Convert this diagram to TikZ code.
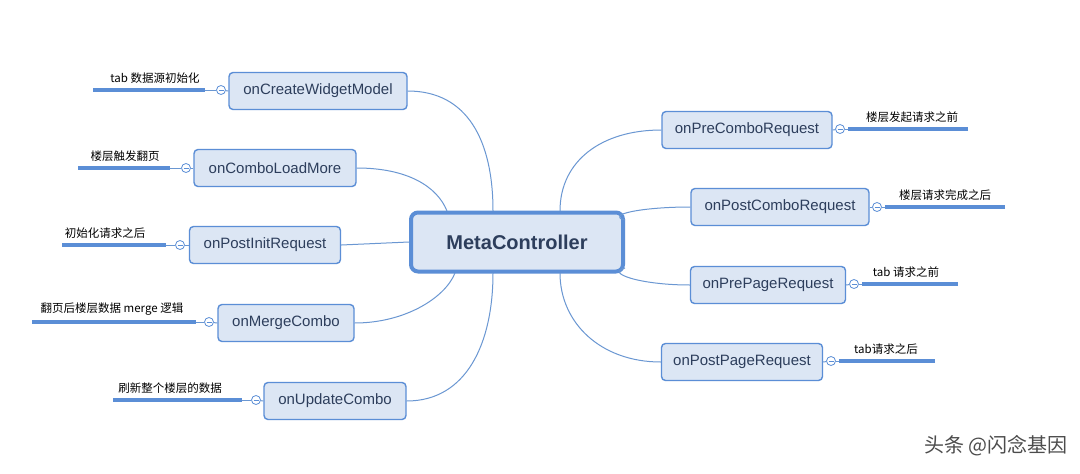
\documentclass[tikz,border=0pt]{standalone}
\usepackage{fontspec}
\setmainfont{Liberation Sans}
\newfontfamily\cjk{Noto Sans CJK SC}
\begin{document}
\begin{tikzpicture}[x=1pt,y=-1pt,
  every node/.style={inner sep=0pt},
  child/.style={draw=nodeb,fill=nodef,line width=1.4pt,rounded corners=4pt,minimum height=37pt,font=\fontsize{15}{17}\selectfont,text=nodet},
  conn/.style={draw=linec,line width=1pt},
  lab/.style={font=\cjk\fontsize{11.5}{13}\selectfont,text=black},
  labline/.style={draw=nodeb,line width=3.5pt},
  knob/.style={circle,draw=nodeb,fill=white,line width=0.8pt,minimum size=9pt},
  minus/.style={draw=nodeb,line width=0.6pt}]
\definecolor{nodeb}{HTML}{5B8ED6}
\definecolor{nodef}{HTML}{DCE6F4}
\definecolor{nodet}{HTML}{2D3E5C}
\definecolor{linec}{HTML}{6A97D2}
\useasboundingbox (0,0) rectangle (1080,474);
\fill[white] (0,0) rectangle (1080,474);
\node[draw=nodeb,fill=nodef,line width=4pt,rounded corners=7pt,minimum width=212pt,minimum height=59pt,font=\bfseries\fontsize{20}{22}\selectfont,text=nodet] (m) at (517,242) {MetaController};
\node[child,minimum width=178pt] (a) at (318,91) {onCreateWidgetModel};
\node[child,minimum width=162pt] (b) at (275,168) {onComboLoadMore};
\node[child,minimum width=151pt] (c) at (265,245) {onPostInitRequest};
\node[child,minimum width=136pt] (d) at (286,323) {onMergeCombo};
\node[child,minimum width=142pt] (e) at (335,401) {onUpdateCombo};
\node[child,minimum width=170pt] (f) at (747,130) {onPreComboRequest};
\node[child,minimum width=178pt] (g) at (780,207) {onPostComboRequest};
\node[child,minimum width=155pt] (h) at (768,285) {onPrePageRequest};
\node[child,minimum width=161pt] (i) at (742,362) {onPostPageRequest};
\coordinate (t1) at (447,211); \coordinate (t2) at (493,211); \coordinate (t3) at (560,211);
\coordinate (b1) at (455,273); \coordinate (b2) at (493,273); \coordinate (b3) at (560,273);
\coordinate (r1) at (625,220); \coordinate (r2) at (625,268);
\draw[conn] (a.east) .. controls +(60,0) and +(0,-70) .. (t2);
\draw[conn] (b.east) .. controls +(50,0) and +(-10,-25) .. (t1);
\draw[conn] (c.east) -- (m.west);
\draw[conn] (d.east) .. controls +(50,0) and +(-10,25) .. (b1);
\draw[conn] (e.east) .. controls +(60,0) and +(0,70) .. (b2);
\draw[conn] (f.west) .. controls +(-60,0) and +(0,-50) .. (t3);
\draw[conn] (g.west) .. controls +(-50,0) and +(-20,-5) .. (r1);
\draw[conn] (h.west) .. controls +(-50,0) and +(-20,5) .. (r2);
\draw[conn] (i.west) .. controls +(-60,0) and +(0,50) .. (b3);
\newcommand{\mylbl}[8]{%
  \node[knob] (k#1) at (#2,#3) {};
  \draw[minus] ([xshift=-2.5pt]k#1.center) -- ([xshift=2.5pt]k#1.center);
  \draw[conn] (#8) -- (k#1);
  \coordinate (p#1) at (#4,#3); \coordinate (q#1) at (#5,#3);
  \draw[labline] (p#1) -- (q#1);
  \draw[conn] (q#1) -- (k#1);
  \node[lab,anchor=south] (n#1) at (#6,#3-6) {#7};
}
\mylbl{a}{221}{90}{93}{205}{155}{tab 数据源初始化}{a.west}
\mylbl{b}{186}{168}{78}{170}{125}{楼层触发翻页}{b.west}
\mylbl{c}{180}{245}{62}{166}{105}{初始化请求之后}{c.west}
\mylbl{d}{209}{322}{32}{196}{112}{翻页后楼层数据 merge 逻辑}{d.west}
\mylbl{e}{256}{400}{113}{242}{170}{刷新整个楼层的数据}{e.west}
\mylbl{f}{840}{129}{968}{848}{912}{楼层发起请求之前}{f.east}
\mylbl{g}{877}{207}{1005}{885}{945}{楼层请求完成之后}{g.east}
\mylbl{h}{854}{284}{958}{862}{906}{tab 请求之前}{h.east}
\mylbl{i}{831}{361}{935}{839}{886}{tab请求之后}{i.east}
\node[font=\cjk\fontsize{20}{22}\selectfont,text=black!70,anchor=east] (wm) at (1068,446) {头条 @闪念基因};
\end{tikzpicture}
\end{document}
